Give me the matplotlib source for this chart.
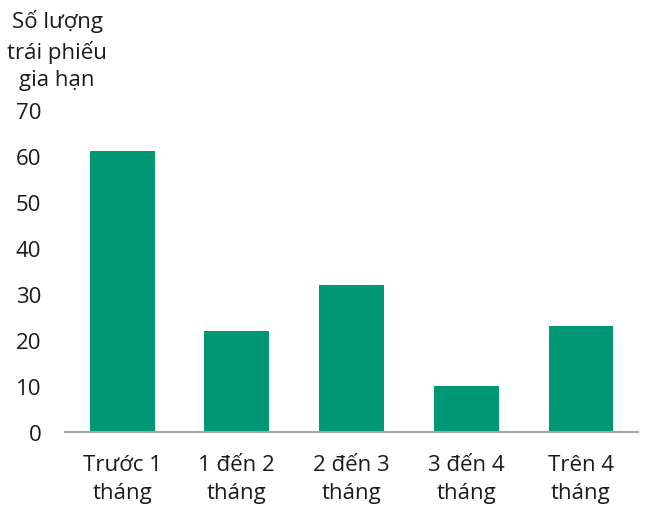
import matplotlib
matplotlib.use('Agg')
import matplotlib.pyplot as plt

plt.rcParams['font.family'] = ['Open Sans', 'DejaVu Sans']

categories = ['Trước 1\ntháng', '1 đến 2\ntháng', '2 đến 3\ntháng', '3 đến 4\ntháng', 'Trên 4\ntháng']
values = [61, 22, 32, 10, 23]
yticks = [0, 10, 20, 30, 40, 50, 60, 70]
ylabel = 'Số lượng\ntrái phiếu\ngia hạn'

bar_color = '#009874'
text_color = '#1a1a1a'

fig = plt.figure(figsize=(6.48, 5.06), dpi=100)
ax = fig.add_axes([0.100, 0.1443, 0.885, 0.6363])

x = list(range(len(categories)))
ax.bar(x, values, width=0.565, color=bar_color)

ax.set_xlim(-0.5, len(categories) - 0.5)
ax.set_ylim(0, 70)
ax.set_yticks(yticks)
ax.set_xticks(x)
ax.set_xticklabels(categories, fontsize=16, color=text_color, linespacing=1.42)
ax.tick_params(axis='x', length=0, pad=16)
ax.tick_params(axis='y', length=0, pad=17, labelsize=16, labelcolor=text_color)

for s in ['top', 'right', 'left']:
    ax.spines[s].set_visible(False)
ax.spines['bottom'].set_color('#a6a6a6')
ax.spines['bottom'].set_linewidth(1.5)

fig.text(0.088, 0.98, ylabel, ha='center', va='top', fontsize=16,
         color=text_color, linespacing=1.42)

fig.savefig('out.png', dpi=100)
